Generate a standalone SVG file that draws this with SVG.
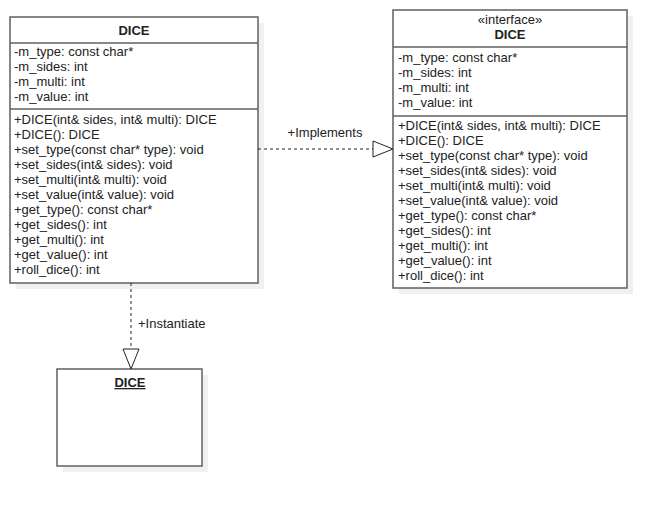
<svg xmlns="http://www.w3.org/2000/svg" width="666" height="506" viewBox="0 0 666 506">
<style>
.box{fill:#fff;stroke:#5f5f5f;stroke-width:1.5}
.sh{fill:#f0f0f0}
.div{stroke:#5f5f5f;stroke-width:1.5}
text{font-family:"Liberation Sans",Arial,sans-serif;font-size:13px;fill:#222}
.b{font-weight:bold;text-anchor:middle}
.c{text-anchor:middle}
.edge{stroke:#222;stroke-width:1;stroke-dasharray:3 3;fill:none}
.head{fill:#fff;stroke:#222;stroke-width:1}
</style>
<rect width="666" height="506" fill="#fff"/>
<g id="dice-class">
<rect class="sh" x="16" y="23" width="248" height="266"/>
<rect class="box" x="10" y="17" width="248" height="266"/>
<line class="div" x1="10" y1="43" x2="258" y2="43"/>
<line class="div" x1="10" y1="109" x2="258" y2="109"/>
<text class="b" x="134" y="35">DICE</text>
<text x="14" y="56">-m_type: const char*</text>
<text x="14" y="71">-m_sides: int</text>
<text x="14" y="86">-m_multi: int</text>
<text x="14" y="101">-m_value: int</text>
<text x="14" y="124">+DICE(int&amp; sides, int&amp; multi): DICE</text>
<text x="14" y="139">+DICE(): DICE</text>
<text x="14" y="154">+set_type(const char* type): void</text>
<text x="14" y="169">+set_sides(int&amp; sides): void</text>
<text x="14" y="184">+set_multi(int&amp; multi): void</text>
<text x="14" y="199">+set_value(int&amp; value): void</text>
<text x="14" y="214">+get_type(): const char*</text>
<text x="14" y="229">+get_sides(): int</text>
<text x="14" y="244">+get_multi(): int</text>
<text x="14" y="259">+get_value(): int</text>
<text x="14" y="274">+roll_dice(): int</text>
</g>
<g id="dice-interface">
<rect class="sh" x="399" y="16" width="234" height="278"/>
<rect class="box" x="393" y="10" width="234" height="278"/>
<line class="div" x1="393" y1="47" x2="627" y2="47"/>
<line class="div" x1="393" y1="116" x2="627" y2="116"/>
<text class="c" x="510" y="24">«interface»</text>
<text class="b" x="510" y="39">DICE</text>
<text x="398" y="62">-m_type: const char*</text>
<text x="398" y="77">-m_sides: int</text>
<text x="398" y="92">-m_multi: int</text>
<text x="398" y="107">-m_value: int</text>
<text x="398" y="130">+DICE(int&amp; sides, int&amp; multi): DICE</text>
<text x="398" y="145">+DICE(): DICE</text>
<text x="398" y="160">+set_type(const char* type): void</text>
<text x="398" y="175">+set_sides(int&amp; sides): void</text>
<text x="398" y="190">+set_multi(int&amp; multi): void</text>
<text x="398" y="205">+set_value(int&amp; value): void</text>
<text x="398" y="220">+get_type(): const char*</text>
<text x="398" y="235">+get_sides(): int</text>
<text x="398" y="250">+get_multi(): int</text>
<text x="398" y="265">+get_value(): int</text>
<text x="398" y="280">+roll_dice(): int</text>
</g>
<g id="dice-object">
<rect class="sh" x="63" y="375" width="145" height="97"/>
<rect class="box" x="57" y="369" width="145" height="97"/>
<text class="b" x="130" y="387" text-decoration="underline">DICE</text>
</g>
<g id="connectors">
<line class="edge" x1="258" y1="149" x2="373" y2="149"/>
<polygon class="head" points="373,141 393,149 373,157"/>
<text class="c" x="325" y="137">+Implements</text>
<line class="edge" x1="131" y1="283" x2="131" y2="349"/>
<polygon class="head" points="123,349 131,369 139,349"/>
<text x="138" y="328">+Instantiate</text>
</g>
</svg>
